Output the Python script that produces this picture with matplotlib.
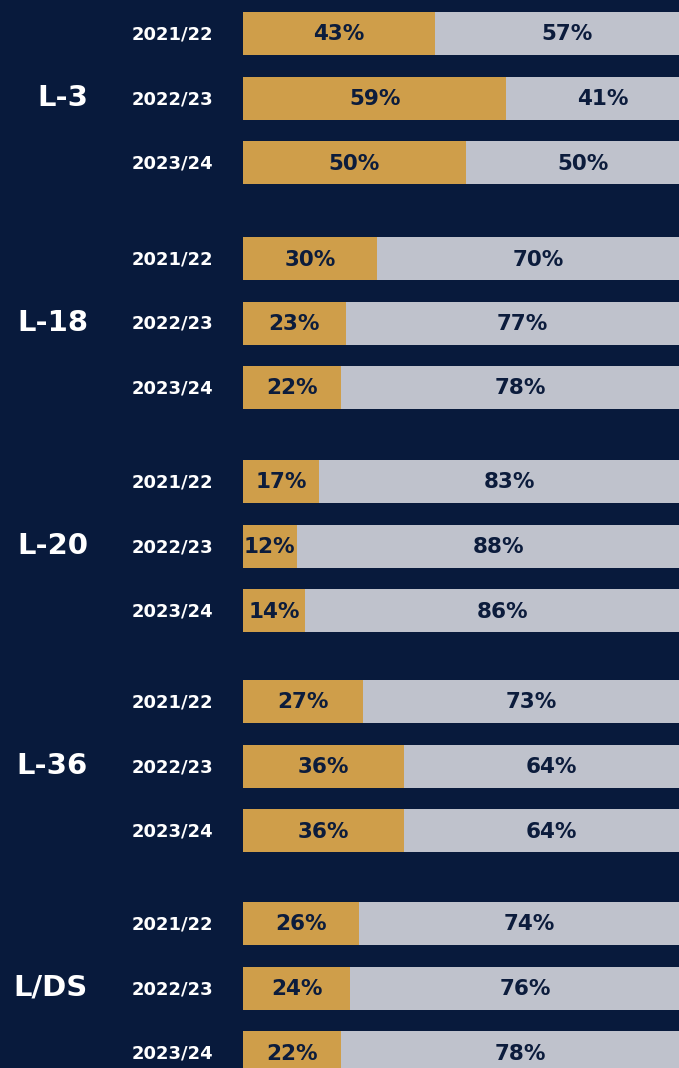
import matplotlib
matplotlib.use("Agg")
import matplotlib.pyplot as plt
from matplotlib import transforms

# 데이터
groups = ["L-3", "L-18", "L-20", "L-36", "L/DS"]
years = ["2021/22", "2022/23", "2023/24"]
gold_pct = [
    [43, 59, 50],
    [30, 23, 22],
    [17, 12, 14],
    [27, 36, 36],
    [26, 24, 22],
]
grey_pct = [
    [57, 41, 50],
    [70, 77, 78],
    [83, 88, 86],
    [73, 64, 64],
    [74, 76, 78],
]

BG = "#081a3c"
GOLD = "#cf9e4a"
GREY = "#bfc2cc"
DARK = "#0c1c3c"

W, H = 679, 1068
fig = plt.figure(figsize=(W / 100, H / 100), dpi=100, facecolor=BG)

x0 = 243
full_w = 446  # 100% 폭 (오른쪽은 잘림)
ax = fig.add_axes([x0 / W, 0, (W - x0) / W, 1])
ax.set_facecolor(BG)
ax.set_xlim(0, (W - x0) / full_w * 100)
ax.set_ylim(H, 0)
ax.axis("off")

trans = transforms.blended_transform_factory(fig.transFigure, ax.transData)

# 그룹 첫 막대 중심 (픽셀), 행 간격
group_y = [33.5, 258.5, 481.5, 701.5, 923.5]
row_step = 64.5
bar_h = 43
for g, grp in enumerate(groups):
    for r, yr in enumerate(years):
        yc = group_y[g] + r * row_step
        gv = gold_pct[g][r]
        sv = grey_pct[g][r]
        ax.barh(yc, gv, height=bar_h, color=GOLD, left=0)
        ax.barh(yc, sv, height=bar_h, color=GREY, left=gv)
        ax.text(gv / 2, yc + 1, f"{gv}%", ha="center", va="center",
                fontsize=15.5, fontweight="bold", color=DARK)
        ax.text(gv + sv / 2 + 1.2, yc + 1, f"{sv}%", ha="center", va="center",
                fontsize=15.5, fontweight="bold", color=DARK)
        ax.text(213 / W, yc + 1, yr, transform=trans, ha="right", va="center",
                fontsize=13, fontweight="bold", color="white")
    ymid = group_y[g] + row_step
    ax.text(88 / W, ymid, grp, transform=trans, ha="right", va="center",
            fontsize=21, fontweight="bold", color="white")

plt.savefig("out.png", dpi=100, facecolor=BG)
plt.close()
